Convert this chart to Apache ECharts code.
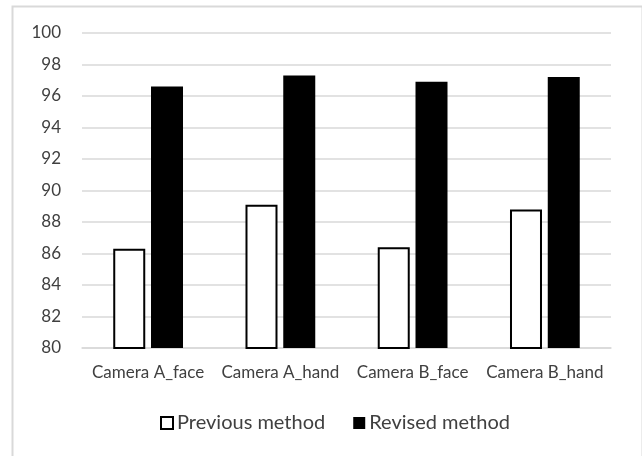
<!DOCTYPE html>
<html>
<head>
<meta charset="utf-8">
<script src="https://cdn.jsdelivr.net/npm/echarts@6/dist/echarts.min.js"></script>
<style>
  html, body { margin: 0; padding: 0; background: #ffffff; }
  #chart { width: 642px; height: 456px; }
</style>
</head>
<body>
<div id="chart"></div>
<script>
// Recognition accuracy (%) per camera and body region
const categories = ['Camera A_face', 'Camera A_hand', 'Camera B_face', 'Camera B_hand'];
const previousMethod = [86.3, 89.1, 86.4, 88.8];
const revisedMethod = [96.6, 97.3, 96.9, 97.2];
const seriesNames = ['Previous method', 'Revised method'];

const fontFamily = 'Lato, Carlito, Calibri, "Liberation Sans", sans-serif';
const textColor = '#404040';

const chart = echarts.init(document.getElementById('chart'), null, { renderer: 'canvas' });

chart.setOption({
  animation: false,
  backgroundColor: '#ffffff',
  graphic: [{
    type: 'rect',
    left: 10, top: 4,
    shape: { width: 630, height: 460 },
    style: { fill: 'none', stroke: '#d9d9d9', lineWidth: 2 },
    silent: true
  }],
  grid: { left: 82, right: 31, top: 33, bottom: 108, containLabel: false },
  legend: {
    left: 155,
    top: 408,
    itemWidth: 12,
    itemHeight: 12,
    itemGap: 28,
    textStyle: { fontFamily, fontSize: 20, lineHeight: 20, color: textColor, padding: [0, 0, 0, -1] },
    data: [
      { name: seriesNames[0], icon: 'rect', itemStyle: { color: '#ffffff', borderColor: '#000000', borderWidth: 2 } },
      { name: seriesNames[1], icon: 'rect', itemStyle: { color: '#000000' } }
    ]
  },
  xAxis: {
    type: 'category',
    data: categories,
    axisLine: { show: true, lineStyle: { color: '#d9d9d9', width: 1.5 } },
    axisTick: { show: false },
    axisLabel: { fontFamily, fontSize: 17, color: textColor, margin: 16, interval: 0 }
  },
  yAxis: {
    type: 'value',
    min: 80,
    max: 100,
    interval: 2,
    axisLine: { show: false },
    axisTick: { show: false },
    axisLabel: { fontFamily, fontSize: 17, color: textColor, margin: 21 },
    splitLine: { show: true, lineStyle: { color: '#d9d9d9', width: 1.5 } }
  },
  series: [
    {
      name: seriesNames[0],
      type: 'bar',
      data: previousMethod,
      barWidth: 32,
      barGap: '18%',
      itemStyle: { color: '#ffffff', borderColor: '#000000', borderWidth: 2 }
    },
    {
      name: seriesNames[1],
      type: 'bar',
      data: revisedMethod,
      barWidth: 32,
      barGap: '18%',
      itemStyle: { color: '#000000' }
    }
  ]
});
</script>
</body>
</html>
